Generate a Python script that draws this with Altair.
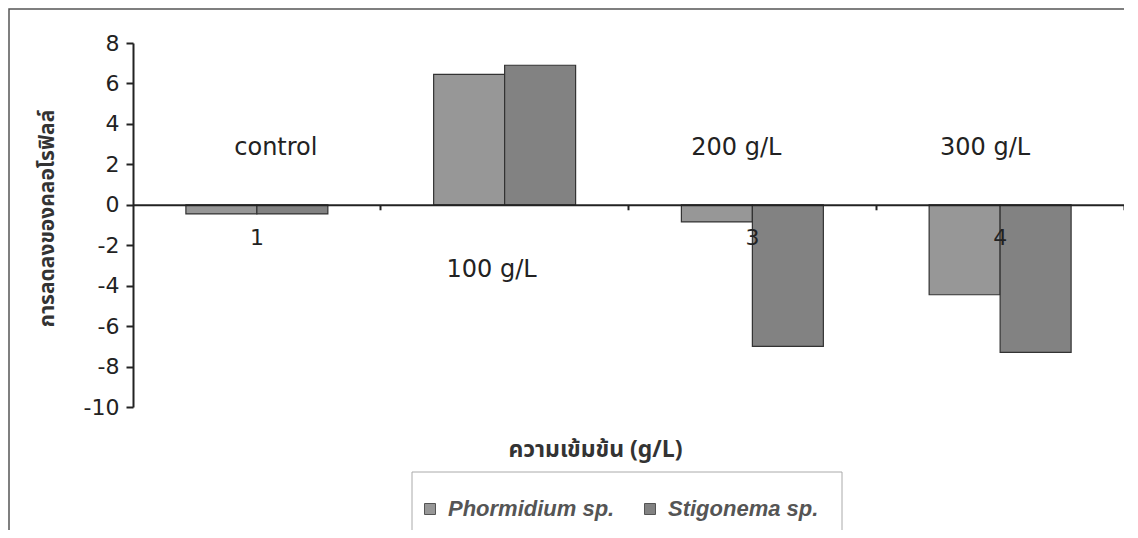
import altair as alt
import pandas as pd

# ---- data ----
categories = ["1", "2", "3", "4"]
series_names = ["Phormidium sp.", "Stigonema sp."]
phormidium = [-0.45, 6.45, -0.85, -4.45]
stigonema = [-0.45, 6.9, -7.0, -7.3]
y_ticks = [-10, -8, -6, -4, -2, 0, 2, 4, 6, 8]
annotation_labels = ["control", "100 g/L", "200 g/L", "300 g/L"]
y_title = "การลดลงของคลอโรฟิลล์"
x_title = "ความเข้มข้น (g/L)"

rows = []
for i, c in enumerate(categories):
    rows.append({"cat": c, "series": series_names[0], "value": phormidium[i]})
    rows.append({"cat": c, "series": series_names[1], "value": stigonema[i]})
bars_df = pd.DataFrame(rows)

FONT = "DejaVu Sans"
THAI = "Noto Sans Thai, Loma, Garuda, Noto Sans, DejaVu Sans, sans-serif"
W, H = 991, 364
zero_px = H * 8 / 18.0

x_scale = alt.Scale(domain=categories, paddingInner=0, paddingOuter=0)

bars = alt.Chart(bars_df).mark_bar(stroke="#333333", strokeWidth=1.2).encode(
    x=alt.X(
        "cat:N",
        scale=x_scale,
        sort=categories,
        axis=alt.Axis(
            orient="bottom",
            offset=-(H - zero_px),
            bandPosition=1,
            zindex=1,
            labelAngle=0,
            labelAlign="center",
            labelExpr="datum.value == '2' ? '' : datum.value",
            labelFont=FONT,
            labelFontSize=22,
            labelColor="#222222",
            labelPadding=18,
            tickSize=5,
            tickWidth=2,
            tickColor="#222222",
            domainColor="#222222",
            domainWidth=2,
            title=x_title,
            titleFont=THAI,
            titleFontSize=23,
            titleFontWeight="bold",
            titleColor="#333333",
            titleX=462,
            titleY=245,
            titleAlign="center",
            titleBaseline="middle",
            grid=False,
        ),
    ),
    xOffset=alt.XOffset(
        "series:N",
        sort=series_names,
        scale=alt.Scale(paddingOuter=0.745, paddingInner=0),
    ),
    y=alt.Y(
        "value:Q",
        scale=alt.Scale(domain=[-10, 8], nice=False, zero=False),
        axis=alt.Axis(
            values=y_ticks,
            labelExpr="toString(datum.value)",
            labelFont=FONT,
            labelFontSize=22,
            labelColor="#222222",
            labelPadding=7,
            tickSize=7,
            tickWidth=2,
            tickColor="#222222",
            domainColor="#222222",
            domainWidth=2,
            grid=False,
            title=y_title,
            titleFont=THAI,
            titleFontSize=21,
            titleFontWeight="bold",
            titleColor="#333333",
            titleX=-86,
            titleY=175,
            titleAngle=270,
            titleAlign="center",
            titleBaseline="middle",
        ),
    ),
    color=alt.Color(
        "series:N",
        sort=series_names,
        scale=alt.Scale(domain=series_names, range=["#979797", "#828282"]),
        legend=alt.Legend(
            title=None,
            orient="none",
            direction="horizontal",
            legendX=286,
            legendY=455,
            padding=0,
            symbolType="square",
            symbolSize=121,
            symbolStrokeColor="#555555",
            symbolStrokeWidth=1,
            labelFont="Liberation Sans",
            labelFontSize=22,
            labelFontWeight="bold",
            labelFontStyle="italic",
            labelColor="#555555",
            labelOffset=7,
            labelLimit=400,
            columnPadding=24,
        ),
    ),
)

# outer frame and legend box (pixel positions)
one = pd.DataFrame({"k": [0]})
frame = alt.Chart(one).mark_rect(filled=False, stroke="#555555", strokeWidth=1.5).encode(
    x=alt.value(-124), x2=alt.value(1200), y=alt.value(-34), y2=alt.value(700)
)
legend_box = alt.Chart(one).mark_rect(filled=False, stroke="#aaaaaa", strokeWidth=1).encode(
    x=alt.value(279), x2=alt.value(709), y=alt.value(429), y2=alt.value(700)
)

ann_y = [105, 227, 105, 105]
ann_dx = [19, -13, -16, -15]
ann_layers = []
for i, lab in enumerate(annotation_labels):
    d = pd.DataFrame({"cat": [categories[i]], "label": [lab]})
    ann_layers.append(
        alt.Chart(d).mark_text(
            font=FONT, fontSize=24, color="#222222", align="center",
            baseline="middle", dx=ann_dx[i]
        ).encode(
            x=alt.X("cat:N", scale=x_scale, sort=categories),
            y=alt.value(ann_y[i]),
            text="label:N",
        )
    )

chart = alt.layer(frame, legend_box, bars, *ann_layers).properties(
    width=W,
    height=H,
    background="white",
    autosize=alt.AutoSizeParams(type="none"),
    padding={"left": 125, "top": 35, "right": 0, "bottom": 123},
).configure_view(stroke=None, strokeWidth=0)

chart.save("out.html", embed_options={"renderer": "svg", "actions": False})
